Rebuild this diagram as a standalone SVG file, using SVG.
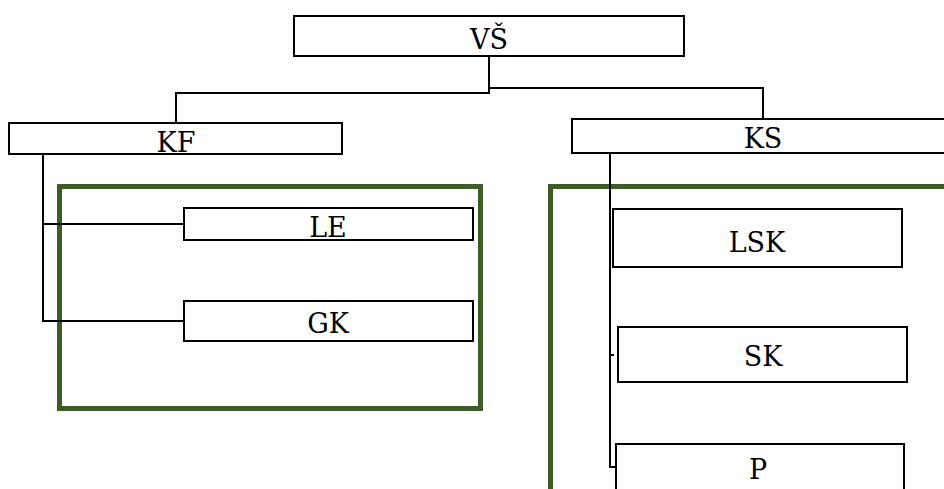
<svg xmlns="http://www.w3.org/2000/svg" width="944" height="489" viewBox="0 0 944 489">
  <style>
    .box { fill: #ffffff; stroke: #000000; stroke-width: 2; }
    .frame { fill: none; stroke: #3d5c28; stroke-width: 5; }
    .wire { fill: none; stroke: #000000; stroke-width: 2; }
    .label { font-family: 'DejaVu Serif', 'Liberation Serif', serif; font-size: 27px; fill: #000000; text-anchor: middle; }
  </style>
  <rect width="944" height="489" fill="#ffffff"/>

  <!-- group frames -->
  <rect class="frame" x="59.5" y="186.5" width="421" height="222"/>
  <polyline class="frame" points="550.5,489 550.5,186.5 946,186.5"/>

  <g id="connectors">
    <polyline class="wire" points="489,57 489,93 176,93 176,123"/>
    <polyline class="wire" points="489,88 763,88 763,119"/>
    <polyline class="wire" points="43,154 43,321 184,321"/>
    <line class="wire" x1="43" y1="224" x2="184" y2="224"/>
    <polyline class="wire" points="610,153 610,467 616,467"/>
    <line class="wire" x1="610" y1="355" x2="614" y2="355"/>
  </g>

  <g id="vs">
    <rect class="box" x="294" y="16" width="390" height="40"/>
    <text class="label" x="489" y="49">VŠ</text>
  </g>
  <g id="kf">
    <rect class="box" x="9" y="123" width="333" height="31"/>
    <text class="label" x="176" y="152">KF</text>
  </g>
  <g id="ks">
    <rect class="box" x="572" y="119" width="380" height="34"/>
    <text class="label" x="763" y="148">KS</text>
  </g>
  <g id="le">
    <rect class="box" x="184" y="208" width="289" height="32"/>
    <text class="label" x="328" y="237">LE</text>
  </g>
  <g id="gk">
    <rect class="box" x="184" y="301" width="289" height="40"/>
    <text class="label" x="328" y="333">GK</text>
  </g>
  <g id="lsk">
    <rect class="box" x="613" y="209" width="289" height="58"/>
    <line class="wire" x1="613" y1="209" x2="613" y2="267" stroke-width="3"/>
    <text class="label" x="757" y="252">LSK</text>
  </g>
  <g id="sk">
    <rect class="box" x="618" y="327" width="289" height="55"/>
    <text class="label" x="763" y="366">SK</text>
  </g>
  <g id="p">
    <rect class="box" x="616" y="444" width="288" height="60"/>
    <text class="label" x="758" y="479">P</text>
  </g>
</svg>
